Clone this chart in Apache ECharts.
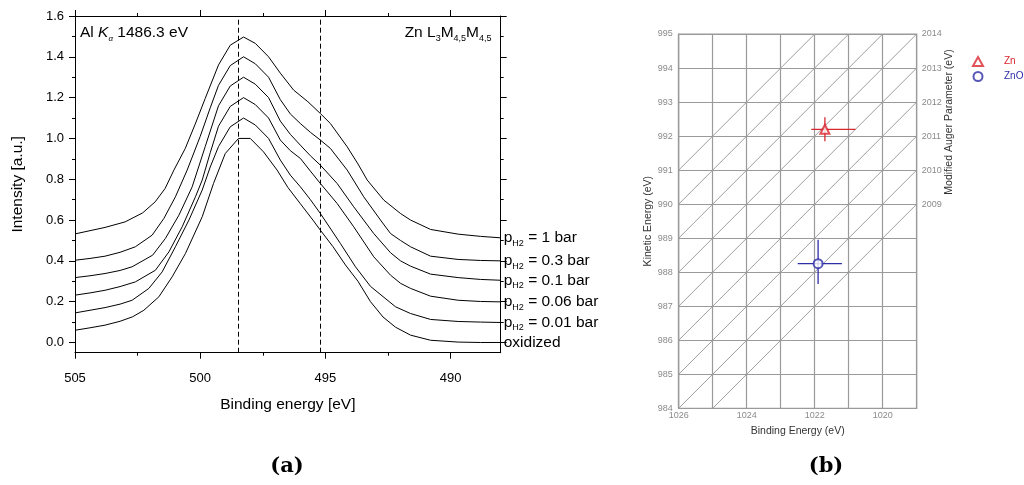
<!DOCTYPE html>
<html>
<head>
<meta charset="utf-8">
<title>Zn L3M45M45 Auger spectra and Wagner plot</title>
<script src="https://cdn.jsdelivr.net/npm/echarts@6/dist/echarts.min.js"></script>
<style>
  html, body { margin: 0; padding: 0; background: #fff; }
  #chart { width: 1024px; height: 485px; }
</style>
</head>
<body>
<div id="chart"></div>
<script>
// ---------- (a) Zn LMM Auger spectra, [binding energy eV, intensity a.u.] ----------
const spectrum1bar = [
  [505, 0.532], [504.4, 0.548], [503.8, 0.564], [503.0, 0.591], [502.3, 0.635], [501.8, 0.689],
  [501.4, 0.755], [501.05, 0.845], [500.6, 0.95], [500.2, 1.07], [499.8, 1.196], [499.27, 1.36],
  [498.8, 1.457], [498.27, 1.497], [497.8, 1.466], [497.27, 1.40], [496.8, 1.32], [496.27, 1.237],
  [495.7, 1.18], [495.2, 1.122], [494.8, 1.073], [494.13, 0.959], [493.7, 0.875], [493.33, 0.796],
  [492.67, 0.698], [492.0, 0.632], [491.6, 0.60], [490.8, 0.554], [489.7, 0.531], [488.8, 0.52], [488, 0.513]
];
const spectrum03bar = [
  [505, 0.403], [504.4, 0.412], [503.8, 0.423], [503.2, 0.442], [502.59, 0.469], [501.92, 0.526],
  [501.45, 0.608], [500.99, 0.714], [500.52, 0.845], [500.0, 1.01], [499.6, 1.15], [499.27, 1.26],
  [498.8, 1.357], [498.27, 1.4], [497.8, 1.366], [497.27, 1.30], [496.8, 1.19], [496.4, 1.12],
  [496.0, 1.073], [495.6, 1.03], [495.2, 0.992], [494.8, 0.951], [494.13, 0.845], [493.47, 0.714],
  [492.8, 0.6], [492.4, 0.534], [492.0, 0.50], [491.6, 0.469], [490.8, 0.423], [489.7, 0.407], [488.8, 0.402], [488, 0.400]
];
const spectrum01bar = [
  [505, 0.318], [504.4, 0.327], [503.8, 0.338], [503.2, 0.353], [502.72, 0.371], [501.9, 0.428],
  [501.39, 0.51], [500.85, 0.624], [500.32, 0.763], [499.8, 0.96], [499.27, 1.16],
  [498.8, 1.257], [498.27, 1.3], [497.8, 1.266], [497.27, 1.2], [496.8, 1.085], [496.4, 1.02],
  [496.0, 0.967], [495.6, 0.915], [495.2, 0.869], [494.53, 0.779], [493.87, 0.665], [493.07, 0.534],
  [492.4, 0.44], [492.0, 0.40], [491.6, 0.374], [490.8, 0.335], [489.7, 0.318], [488.8, 0.309], [488, 0.305]
];
const spectrum006bar = [
  [505, 0.232], [504.4, 0.243], [503.8, 0.256], [503.2, 0.274], [502.59, 0.297], [501.79, 0.354],
  [501.25, 0.444], [500.72, 0.567], [500.19, 0.714], [499.92, 0.796], [499.6, 0.93], [499.27, 1.06],
  [498.8, 1.157], [498.27, 1.2], [497.8, 1.166], [497.27, 1.10], [496.8, 0.992], [496.4, 0.94],
  [496.0, 0.902], [495.6, 0.84], [495.2, 0.779], [494.53, 0.681], [493.87, 0.567], [493.07, 0.42],
  [492.4, 0.33], [492.0, 0.29], [491.6, 0.265], [490.8, 0.227], [489.7, 0.207], [488.8, 0.201], [488, 0.199]
];
const spectrum001bar = [
  [505, 0.145], [504.4, 0.158], [503.8, 0.171], [503.2, 0.188], [502.72, 0.207], [502.05, 0.265],
  [501.52, 0.346], [500.99, 0.469], [500.45, 0.6], [499.92, 0.747], [499.6, 0.86], [499.27, 0.96],
  [498.8, 1.057], [498.27, 1.1], [497.8, 1.066], [497.27, 1.0], [496.8, 0.894], [496.4, 0.82],
  [496.0, 0.763], [495.6, 0.70], [495.2, 0.632], [494.4, 0.485], [493.8, 0.371], [493.2, 0.275],
  [492.7, 0.225], [492.2, 0.175], [491.6, 0.142], [490.8, 0.113], [489.7, 0.103], [488.8, 0.1], [488, 0.098]
];
const spectrumOxidized = [
  [505, 0.060], [504.4, 0.072], [503.8, 0.085], [503.2, 0.104], [502.7, 0.126], [502.25, 0.158],
  [501.65, 0.224], [501.12, 0.322], [500.59, 0.436], [499.92, 0.616], [499.47, 0.779], [499.0, 0.926],
  [498.47, 1.0], [498.0, 1.0], [497.47, 0.934], [496.93, 0.845], [496.5, 0.76], [496.0, 0.68],
  [495.5, 0.60], [495.2, 0.55], [494.7, 0.47], [494.2, 0.38], [493.7, 0.30], [493.2, 0.20],
  [492.7, 0.125], [492.2, 0.075], [491.6, 0.036], [490.8, 0.011], [489.7, 0.002], [488.8, 0.0], [488, 0.0]
];
const pressures = ['1', '0.3', '0.1', '0.06', '0.01'];     // hydrogen pressure, bar
const dashedEnergies = [498.47, 495.2];                    // reference peak positions, eV
const energyTicks = [490, 495, 500, 505];
const energyMinorTicks = [492.5, 497.5, 502.5];
const intensityTicks = [0, 0.2, 0.4, 0.6, 0.8, 1.0, 1.2, 1.4, 1.6];
const intensityMinorTicks = [0.1, 0.3, 0.5, 0.7, 0.9, 1.1, 1.3, 1.5];

// ---------- (b) Wagner plot ----------
const samples = ['Zn', 'ZnO'];
const bindingEnergy = [1021.7, 1021.9];           // Zn 2p3/2, eV
const kineticEnergy = [992.2, 988.25];            // Zn LMM, eV
const bindingRange = [[1022.1, 1020.8], [1022.5, 1021.2]];
const kineticRange = [[991.85, 992.55], [987.65, 988.95]];
const augerParams = [2009, 2010, 2011, 2012, 2013, 2014, 2015, 2016, 2017];
const sampleColors = ['#d8262e', '#2e2ea8'];
const sampleSymbols = ['emptyTriangle', 'emptyCircle'];

const FONT = 'Liberation Sans';
const BE_MIN = 1019, BE_MAX = 1026, KE_MIN = 984, KE_MAX = 995;
const AUGER_OFFSET = BE_MIN;   // right axis: alpha' = KE + BE at the right edge

const spectra = [spectrum1bar, spectrum03bar, spectrum01bar, spectrum006bar, spectrum001bar, spectrumOxidized];
const labelTexts = pressures.map(p => '{p|p}{s|H2}{t| = ' + p + ' bar}').concat(['{t|oxidized}']);

const lineSeries = spectra.map((data, i) => ({
  type: 'line',
  xAxisIndex: 0,
  yAxisIndex: 0,
  data: data,
  showSymbol: false,
  symbol: 'none',
  silent: true,
  lineStyle: { color: '#000', width: 1 },
  endLabel: {
    show: true,
    align: 'left',
    distance: -3,
    formatter: () => labelTexts[i],
    rich: {
      p: { fontSize: 15.5, color: '#000', fontFamily: FONT, lineHeight: 20 },
      s: { fontSize: 9, color: '#000', fontFamily: FONT, lineHeight: 6, verticalAlign: 'bottom' },
      t: { fontSize: 15.5, color: '#000', fontFamily: FONT, lineHeight: 20 }
    }
  },
  markLine: i === 0 ? {
    silent: true,
    symbol: 'none',
    label: { show: false },
    lineStyle: { color: '#000', width: 1, type: [5, 3] },
    data: dashedEnergies.map(e => ({ xAxis: e }))
  } : undefined
}));

// iso-alpha' lines (alpha' = BE + KE), clipped to the plot frame
const augerSeries = augerParams.map(a => {
  const be1 = Math.min(BE_MAX, a - KE_MIN);
  const be2 = Math.max(BE_MIN, a - KE_MAX);
  return {
    type: 'line',
    xAxisIndex: 4, yAxisIndex: 4,
    data: [[be1, a - be1], [be2, a - be2]],
    showSymbol: false,
    symbol: 'none',
    silent: true,
    lineStyle: { color: '#9e9e9e', width: 1 },
    z: 1
  };
});

const errorData = samples.map((s, i) => [
  bindingEnergy[i], kineticEnergy[i],
  bindingRange[i][0], bindingRange[i][1], kineticRange[i][0], kineticRange[i][1]
]);

function spectrumX(position, ticks, len, showLine, extra) {
  return Object.assign({
    gridIndex: 0, type: 'value', min: 488, max: 505, inverse: true, position: position,
    axisLine: { show: showLine, onZero: false, lineStyle: { color: '#000', width: 1 } },
    axisTick: { show: true, customValues: ticks, length: len, lineStyle: { color: '#000', width: 1 } },
    axisLabel: { show: false },
    splitLine: { show: false }
  }, extra || {});
}
function spectrumY(position, ticks, len, showLine, extra) {
  return Object.assign({
    gridIndex: 0, type: 'value', min: -0.05, max: 1.6, position: position,
    axisLine: { show: showLine, onZero: false, lineStyle: { color: '#000', width: 1 } },
    axisTick: { show: true, customValues: ticks, length: len, lineStyle: { color: '#000', width: 1 } },
    axisLabel: { show: false },
    splitLine: { show: false }
  }, extra || {});
}

const gridGray = '#9a9a9a';
const labelGray = '#8a8a8a';

const option = {
  animation: false,
  textStyle: { fontFamily: FONT },
  grid: [
    { left: 75, top: 16, width: 425.7, height: 336.7, show: false },
    { left: 678.7, top: 34, width: 238, height: 374.3, show: true, borderColor: gridGray, borderWidth: 1.2, backgroundColor: 'transparent' }
  ],
  xAxis: [
    spectrumX('bottom', energyTicks, 6, true, {
      axisLabel: { show: true, customValues: energyTicks, fontSize: 13, color: '#000', margin: 19, fontFamily: FONT },
      name: 'Binding energy [eV]', nameLocation: 'middle', nameGap: 44,
      nameTextStyle: { fontSize: 15.5, color: '#000', fontFamily: FONT }
    }),
    spectrumX('bottom', energyMinorTicks, 3, false),
    spectrumX('top', energyTicks, 6, true),
    spectrumX('top', energyMinorTicks, 3, false),
    {
      gridIndex: 1, type: 'value', min: BE_MIN, max: BE_MAX, interval: 1, inverse: true, position: 'bottom',
      axisLine: { show: true, onZero: false, lineStyle: { color: gridGray, width: 1.2 } },
      axisTick: { show: false },
      axisLabel: { fontSize: 9, color: labelGray, margin: 3, formatter: v => (v % 2 === 0 ? String(v) : '') },
      splitLine: { show: true, lineStyle: { color: gridGray, width: 1.2 } },
      name: 'Binding Energy (eV)', nameLocation: 'middle', nameGap: 12,
      nameTextStyle: { fontSize: 10.5, color: '#333' }
    }
  ],
  yAxis: [
    spectrumY('left', intensityTicks, 6, true, {
      axisLabel: { show: true, customValues: intensityTicks, fontSize: 13, color: '#000', margin: 11, fontFamily: FONT, formatter: v => v.toFixed(1) },
      name: 'Intensity [a.u.]', nameLocation: 'middle', nameGap: 49,
      nameTextStyle: { fontSize: 15.5, color: '#000', fontFamily: FONT }
    }),
    spectrumY('left', intensityMinorTicks, 3, false),
    spectrumY('right', intensityTicks, 6, true),
    spectrumY('right', intensityMinorTicks, 3, false),
    {
      gridIndex: 1, type: 'value', min: KE_MIN, max: KE_MAX, interval: 1, position: 'left',
      axisLine: { show: true, onZero: false, lineStyle: { color: gridGray, width: 1.2 } },
      axisTick: { show: false },
      axisLabel: { fontSize: 9, color: labelGray, margin: 6, padding: [0, 0, 6, 0] },
      splitLine: { show: true, lineStyle: { color: gridGray, width: 1.2 } },
      name: 'Kinetic Energy (eV)', nameLocation: 'middle', nameGap: 25,
      nameTextStyle: { fontSize: 10.5, color: '#333' }
    },
    {
      gridIndex: 1, type: 'value', min: KE_MIN + AUGER_OFFSET, max: KE_MAX + AUGER_OFFSET, interval: 1, position: 'right',
      axisLine: { show: false, onZero: false },
      axisTick: { show: false },
      axisLabel: { fontSize: 9, color: labelGray, margin: 5, padding: [0, 0, 6, 0], formatter: v => (v >= 2009 ? String(v) : '') },
      splitLine: { show: false }
    }
  ],
  legend: {
    orient: 'vertical',
    left: 972, top: 56,
    padding: 0,
    itemWidth: 10, itemHeight: 9, itemGap: 4,
    selectedMode: false,
    textStyle: { fontSize: 10, padding: [0, 0, 0, 16] },
    data: samples.map((s, i) => ({ name: s, icon: sampleSymbols[i], textStyle: { color: sampleColors[i] } }))
  },
  series: lineSeries.concat(augerSeries).concat([
    {
      type: 'custom',
      xAxisIndex: 4, yAxisIndex: 4,
      silent: true,
      encode: { x: 0, y: 1 },
      data: errorData,
      z: 3,
      renderItem: (params, api) => {
        const x = api.value(0), y = api.value(1);
        const a = api.coord([api.value(2), y]);
        const b = api.coord([api.value(3), y]);
        const c = api.coord([x, api.value(4)]);
        const d = api.coord([x, api.value(5)]);
        const color = sampleColors[params.dataIndex];
        return {
          type: 'group',
          children: [
            { type: 'line', shape: { x1: a[0], y1: a[1], x2: b[0], y2: b[1] }, style: { stroke: color, lineWidth: 1.3 } },
            { type: 'line', shape: { x1: c[0], y1: c[1], x2: d[0], y2: d[1] }, style: { stroke: color, lineWidth: 1.3 } }
          ]
        };
      }
    }
  ]).concat(samples.map((s, i) => ({
    type: 'scatter',
    name: s,
    xAxisIndex: 4, yAxisIndex: 4,
    data: [[bindingEnergy[i], kineticEnergy[i]]],
    symbol: sampleSymbols[i],
    symbolSize: 9,
    itemStyle: { color: sampleColors[i], borderWidth: 1.3 },
    silent: true,
    z: 5
  }))),
  graphic: [
    {
      type: 'text', x: 80, y: 33,
      style: {
        text: '{n|Al }{k|K}{a|α}{n| 1486.3 eV}',
        textVerticalAlign: 'middle',
        rich: {
          n: { fontSize: 15.5, fill: '#000', fontFamily: FONT, lineHeight: 20 },
          k: { fontSize: 15.5, fill: '#000', fontFamily: FONT, fontStyle: 'italic', lineHeight: 20 },
          a: { fontSize: 8, fill: '#000', fontFamily: FONT, fontStyle: 'italic', lineHeight: 6, verticalAlign: 'bottom' }
        }
      }
    },
    {
      type: 'text', x: 491.5, y: 33,
      style: {
        text: '{n|Zn L}{s|3}{n|M}{s|4,5}{n|M}{s|4,5}',
        textAlign: 'right',
        textVerticalAlign: 'middle',
        rich: {
          n: { fontSize: 15.5, fill: '#000', fontFamily: FONT, lineHeight: 20 },
          s: { fontSize: 9, fill: '#000', fontFamily: FONT, lineHeight: 6, verticalAlign: 'bottom' }
        }
      }
    },
    {
      type: 'text', x: 949, y: 122, rotation: Math.PI / 2,
      style: { text: 'Modified Auger Parameter (eV)', fontSize: 10.5, fill: '#333', fontFamily: FONT, textAlign: 'center', textVerticalAlign: 'middle' }
    },
    {
      type: 'text', x: 287, y: 467,
      style: { text: '(a)', fontSize: 21, fontWeight: 'bold', fill: '#000', fontFamily: 'DejaVu Serif', textAlign: 'center', textVerticalAlign: 'middle' }
    },
    {
      type: 'text', x: 826, y: 467,
      style: { text: '(b)', fontSize: 21, fontWeight: 'bold', fill: '#000', fontFamily: 'DejaVu Serif', textAlign: 'center', textVerticalAlign: 'middle' }
    }
  ]
};

const chart = echarts.init(document.getElementById('chart'), null, { renderer: 'canvas' });
chart.setOption(option);
</script>
</body>
</html>
